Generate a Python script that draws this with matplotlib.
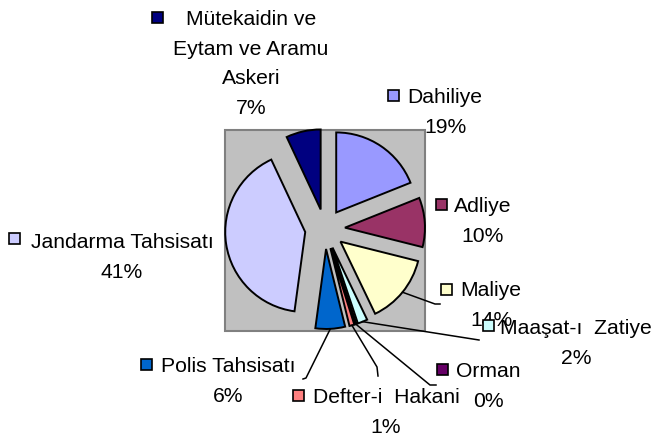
import matplotlib
matplotlib.use("Agg")
import matplotlib.pyplot as plt
import numpy as np
from matplotlib.patches import Rectangle

# ---- data ----
categories = ["Dahiliye", "Adliye", "Maliye", "Maaşat-ı  Zatiye", "Orman",
              "Defter-i  Hakani", "Polis Tahsisatı", "Jandarma Tahsisatı",
              "Mütekaidin ve\nEytam ve Aramu\nAskeri"]
values = [19, 10, 14, 2, 0.3, 1, 6, 41, 7]
colors = ["#9999FF", "#993366", "#FFFFCC", "#CCFFFF", "#660066",
          "#FF8080", "#0066CC", "#CCCCFF", "#000080"]

# ---- layout (image pixel coordinates, y measured from top) ----
W, H = 657, 439
PIE_C = (325, 230)
R = 80
EXPL = 20
# label block: text centre x, first-line cap-centre y, key centre (x, y)
label_pos = [
    (445, 96, (393, 96)),
    (483, 205, (441, 205)),
    (491, 289, (446, 290)),
    (576, 327, (488, 326)),
    (488, 370, (442, 370)),
    (386, 396, (298, 396)),
    (228, 365, (146, 365)),
    (122, 241, (14, 239)),
    (251, 18, (157, 18)),
]
# leader line waypoints (image px), None = no leader
leaders = [None, None,
           [(435, 305), (440, 305)],
           [(479, 341)],
           [(430, 386), (436, 386)],
           [(377, 368), (378, 377)],
           [(306, 379), (303, 380)],
           None, None]
LINE_GAP = 29.5
FS = 15.2
CAP = 0.70 * FS * 100 / 72
KEY = 11

def Y(y):
    return H - y

fig = plt.figure(figsize=(W / 100, H / 100), dpi=100)
ax = fig.add_axes([0, 0, 1, 1])

ax.add_patch(Rectangle((225, Y(332)), 200, 201, facecolor="#C0C0C0",
                       edgecolor="#808080", linewidth=1.5, zorder=0))

wedges, _ = ax.pie(values, colors=colors, explode=[EXPL] * len(values),
                   radius=R, center=(PIE_C[0], Y(PIE_C[1])), startangle=90,
                   counterclock=False, frame=True,
                   wedgeprops=dict(edgecolor="black", linewidth=1.4))
for w in wedges:
    w.set_zorder(2)

total = sum(values)
for i, (name, v) in enumerate(zip(categories, values)):
    pct = f"{int(round(v / total * 100))}%"
    lines = name.split("\n") + [pct]
    tx, ty, (kx, ky) = label_pos[i]
    for j, ln in enumerate(lines):
        ax.text(tx, Y(ty + j * LINE_GAP) - CAP / 2, ln, ha="center",
                va="baseline", fontsize=FS, family="Liberation Sans",
                color="black", zorder=5 + i)
    ax.add_patch(Rectangle((kx - KEY / 2, Y(ky) - KEY / 2), KEY, KEY,
                           facecolor=colors[i], edgecolor="black",
                           linewidth=1.2, zorder=5 + i))
    if leaders[i] is not None:
        w = wedges[i]
        tm = np.deg2rad((w.theta1 + w.theta2) / 2)
        sx = PIE_C[0] + (R + EXPL) * np.cos(tm)
        sy = Y(PIE_C[1]) + (R + EXPL) * np.sin(tm)
        xs = [sx] + [p[0] for p in leaders[i]]
        ys = [sy] + [Y(p[1]) for p in leaders[i]]
        ax.plot(xs, ys, color="black", linewidth=1.1, zorder=3)

ax.set_xlim(0, W)
ax.set_ylim(0, H)
ax.set_aspect("auto")
ax.axis("off")
fig.savefig("out.png", dpi=100, facecolor="white")
